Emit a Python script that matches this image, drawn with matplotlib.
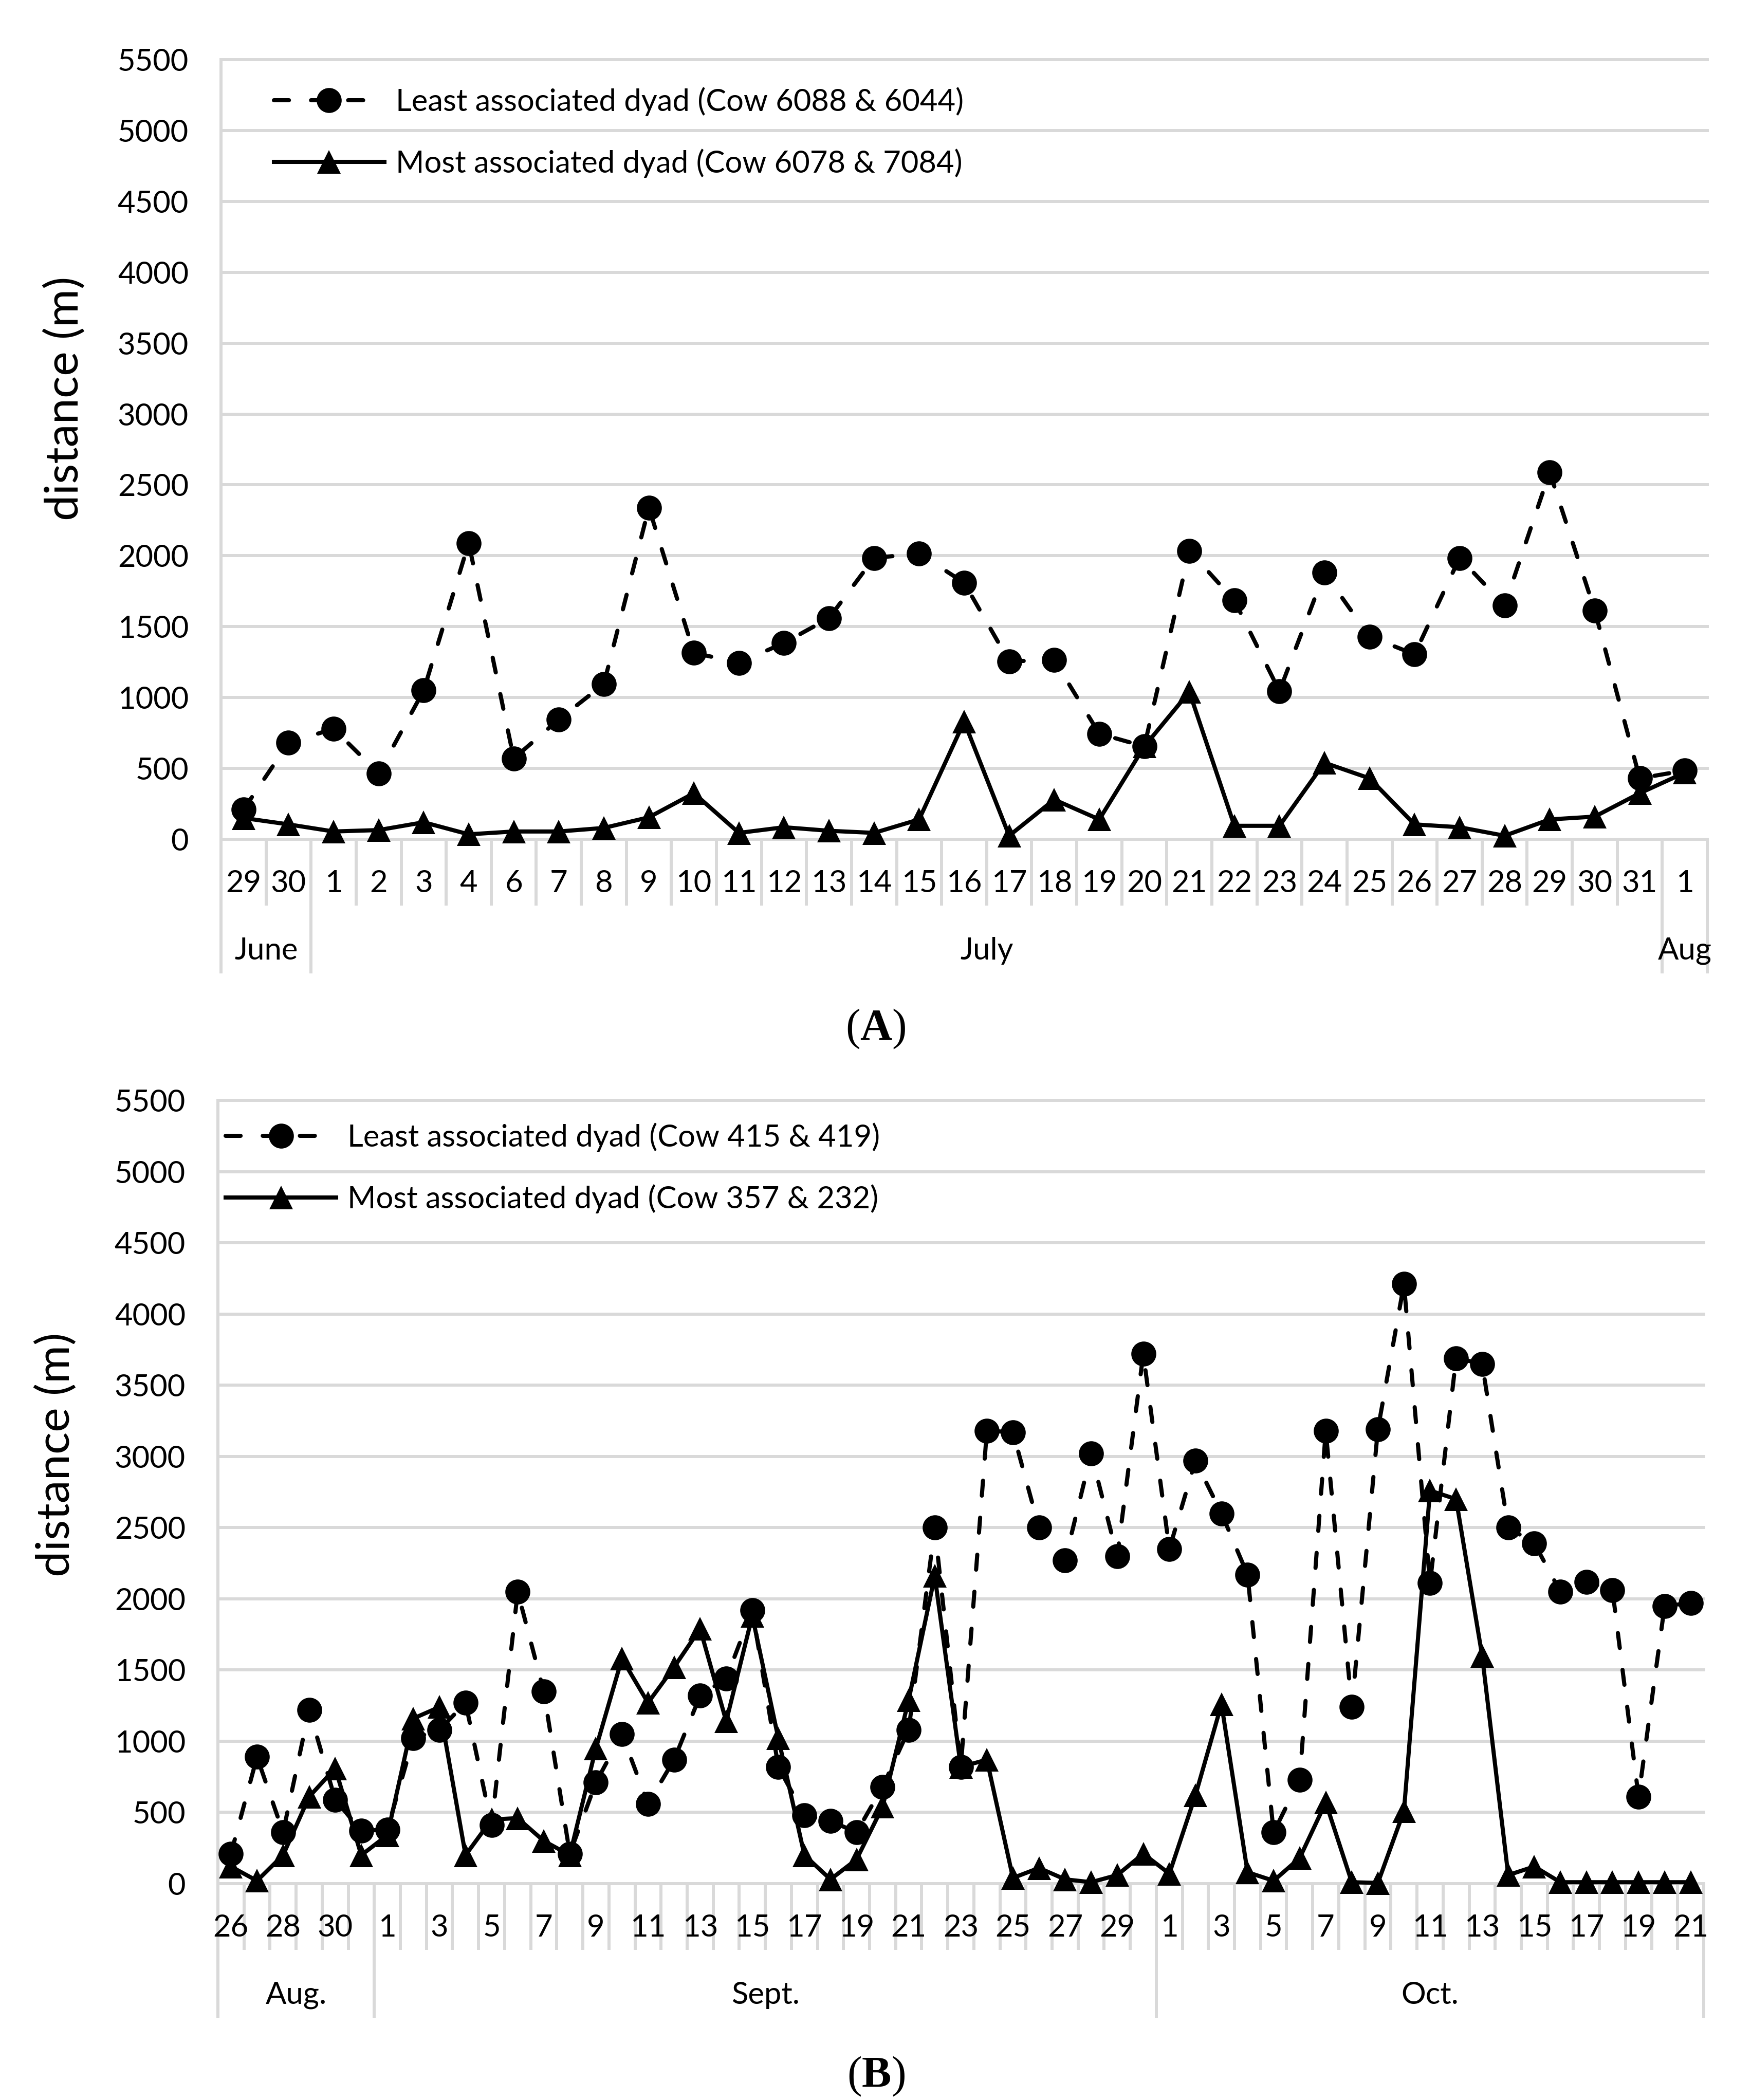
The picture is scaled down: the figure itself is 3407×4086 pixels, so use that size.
import matplotlib
matplotlib.use('Agg')
import matplotlib.pyplot as plt

plt.rcParams['font.family'] = ['Lato', 'DejaVu Sans']
plt.rcParams['lines.scale_dashes'] = False
plt.rcParams['mathtext.fontset'] = 'custom'
plt.rcParams['mathtext.bf'] = 'Liberation Serif:bold'
plt.rcParams['mathtext.rm'] = 'Liberation Serif'

W, H, DPI = 3407, 4086, 100

# ---------------- data ----------------
y_ticks = [0, 500, 1000, 1500, 2000, 2500, 3000, 3500, 4000, 4500, 5000, 5500]

a_days = ['29', '30', '1', '2', '3', '4', '6', '7', '8', '9', '10', '11', '12', '13', '14', '15',
          '16', '17', '18', '19', '20', '21', '22', '23', '24', '25', '26', '27', '28', '29', '30',
          '31', '1']
a_months = ['June', 'July', 'Aug']
a_month_len = [2, 30, 1]
a_least = [210, 680, 780, 465, 1050, 2090, 570, 845, 1095, 2340, 1315, 1245, 1385, 1560, 1985,
           2015, 1810, 1255, 1265, 745, 655, 2035, 1685, 1045, 1880, 1430, 1305, 1985, 1650,
           2590, 1615, 430, 485]
a_most = [150, 105, 55, 65, 120, 35, 55, 55, 80, 155, 325, 45, 85, 60, 45, 140, 830, 25, 280,
          140, 655, 1040, 95, 95, 540, 430, 105, 85, 25, 140, 160, 325, 470]
a_least_label = 'Least associated dyad (Cow 6088 & 6044)'
a_most_label = 'Most associated dyad (Cow 6078 & 7084)'

b_days = ['26', '27', '28', '29', '30', '31',
          '1', '2', '3', '4', '5', '6', '7', '8', '9', '10', '11', '12', '13', '14', '15', '16',
          '17', '18', '19', '20', '21', '22', '23', '24', '25', '26', '27', '28', '29', '30',
          '1', '2', '3', '4', '5', '6', '7', '8', '9', '10', '11', '12', '13', '14', '15', '16',
          '17', '18', '19', '20', '21']
b_months = ['Aug.', 'Sept.', 'Oct.']
b_month_len = [6, 30, 21]
b_least = [210, 890, 360, 1220, 590, 370, 380, 1020, 1080, 1270, 410, 2050, 1350, 210, 710,
           1050, 560, 870, 1320, 1440, 1920, 820, 480, 440, 360, 680, 1080, 2500, 820, 3180,
           3170, 2500, 2270, 3020, 2300, 3720, 2350, 2970, 2600, 2170, 360, 730, 3180, 1240,
           3190, 4210, 2110, 3690, 3650, 2500, 2390, 2050, 2120, 2060, 610, 1950, 1970]
b_most = [120, 20, 200, 610, 810, 200, 340, 1160, 1240, 200, 450, 460, 300, 200, 950, 1580,
          1270, 1520, 1790, 1140, 1880, 1020, 200, 30, 170, 540, 1290, 2160, 820, 870, 40, 110,
          30, 10, 60, 210, 70, 620, 1260, 80, 20, 180, 570, 10, 5, 510, 2760, 2700, 1600, 60,
          120, 10, 10, 10, 10, 10, 10]
b_least_label = 'Least associated dyad (Cow 415 & 419)'
b_most_label = 'Most associated dyad (Cow 357 & 232)'

# ---------------- style ----------------
GRID = '#d9d9d9'
GLW = 4.3
LW = 5.8
FS = 43
px = 72.0 / DPI  # points per pixel

fig = plt.figure(figsize=(W / DPI, H / DPI), dpi=DPI)


def make_panel(rect_px, days, months, month_len, least, most, l_lab, m_lab,
               day_step, leg_xy, ylab_xy, panel_letter, panel_y):
    left, top, right, bottom = rect_px
    ax = fig.add_axes([left / W, 1 - bottom / H, (right - left) / W, (bottom - top) / H])
    hpx = bottom - top
    n = len(days)
    ax.set_xlim(-0.5, n - 0.5)
    ax.set_ylim(0, 5500)
    for s in ['top', 'right', 'bottom']:
        ax.spines[s].set_visible(False)
    ax.spines['left'].set_color(GRID)
    ax.spines['left'].set_linewidth(GLW)
    ax.set_xticks([])
    ax.set_yticks(y_ticks)
    ax.set_yticklabels([str(v) for v in y_ticks])
    ax.tick_params(axis='y', length=0, pad=63 * px, labelsize=FS)
    for v in y_ticks:
        ax.axhline(v, color=GRID, lw=GLW, zorder=0, clip_on=False)

    xt = ax.get_xaxis_transform()
    bounds = [0]
    for m in month_len:
        bounds.append(bounds[-1] + m)
    for k in range(n + 1):
        depth = 261 if k in bounds else 129
        ax.plot([k - 0.5, k - 0.5], [0, -depth / hpx], transform=xt, color=GRID,
                lw=GLW, clip_on=False, zorder=0, solid_capstyle='butt')
    for i, d in enumerate(days):
        if i % day_step == 0:
            ax.text(i, -86 / hpx, d, transform=xt, ha='center', va='center', fontsize=FS)
    for j, mname in enumerate(months):
        c = (bounds[j] + bounds[j + 1] - 1) / 2.0
        ax.text(c, -217 / hpx, mname, transform=xt, ha='center', va='center', fontsize=FS)

    x = list(range(n))
    l1, = ax.plot(x, least, color='black', lw=LW, dashes=(21, 31), dash_capstyle='round',
                  marker='o', markersize=35, markeredgewidth=0, clip_on=False, zorder=3,
                  label=l_lab)
    l2, = ax.plot(x, most, color='black', lw=LW,
                  marker='^', markersize=33, markeredgewidth=0, clip_on=False, zorder=4,
                  label=m_lab)
    ax.legend(handles=[l1, l2], loc='upper left', bbox_to_anchor=leg_xy, frameon=False,
              fontsize=FS, handlelength=3.6, handletextpad=0.37, labelspacing=1.06,
              borderpad=0, borderaxespad=0, numpoints=1)
    ax.set_ylabel('distance (m)', fontsize=65, va='center')
    ax.yaxis.set_label_coords(*ylab_xy)
    fig.text(1704 / W, 1 - panel_y / H, '(' + r'$\mathbf{' + panel_letter + '}$' + ')',
             ha='center', va='baseline', fontsize=62,
             family=['Liberation Serif', 'DejaVu Serif'])
    return ax


make_panel((430, 116, 3322, 1633), a_days, a_months, a_month_len, a_least, a_most,
           a_least_label, a_most_label, 1, (0.0356, 0.965), (-0.1048, 0.5656), 'A', 2023)
make_panel((424, 2141, 3315, 3665), b_days, b_months, b_month_len, b_least, b_most,
           b_least_label, b_most_label, 2, (0.0052, 0.9715), (-0.1086, 0.548), 'B', 4061)

fig.savefig('out.png', dpi=DPI)
